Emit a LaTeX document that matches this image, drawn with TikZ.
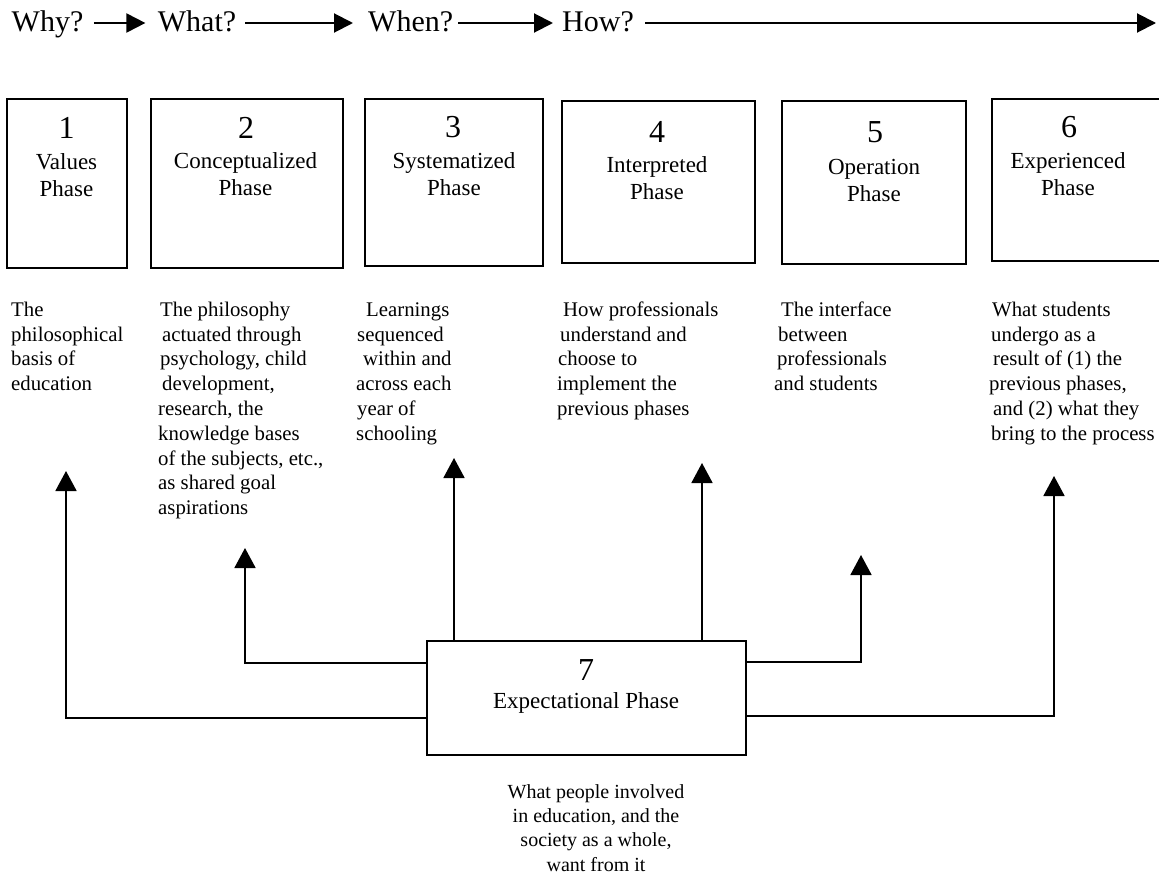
\documentclass[tikz,border=0pt]{standalone}
\usepackage{fontspec}
\setmainfont{Liberation Serif}
\usetikzlibrary{arrows.meta}
\begin{document}
\begin{tikzpicture}[x=1pt,y=-1pt,
  box/.style={draw, line width=1.8pt, inner sep=0pt},
  num/.style={font=\fontsize{32}{32}\selectfont, anchor=base, inner sep=0pt},
  phname/.style={font=\fontsize{23}{27}\selectfont, align=center, anchor=north, inner sep=0pt},
  desc/.style={font=\fontsize{20.8}{24.8}\selectfont, align=left, anchor=north west, inner sep=0pt},
  head/.style={font=\fontsize{30}{36}\selectfont, anchor=base west, inner sep=0pt, text height=20pt, text depth=4pt},
  harrow/.style={line width=2pt, -{Triangle[length=19pt,width=19pt]}},
  conn/.style={line width=1.8pt, -{Triangle[length=20pt,width=21pt]}}]
\path[use as bounding box] (0,0) rectangle (1159,878);
\fill[white] (0,0) rectangle (1159,878);
\clip (0,0) rectangle (1159,878);

% header
\node[head] (why) at (11.5,31) {Why?};
\node[head] (what) at (157.7,31) {What?};
\node[head] (when) at (368,31) {When?};
\node[head] (how) at (562,31) {How?};
\coordinate (hend) at (1156,23);
\draw[harrow, shorten <=10.4pt, shorten >=12.3pt] (why.east) -- (what.west);
\draw[harrow, shorten <=9pt, shorten >=15pt] (what.east) -- (when.west);
\draw[harrow, shorten <=5pt, shorten >=9pt] (when.east) -- (how.west);
\draw[harrow, shorten <=11.4pt] (how.east) -- (hend);

% phase boxes
\node[box, minimum width=120pt, minimum height=169pt] (b1) at (67,183.5) {};
\node[box, minimum width=192pt, minimum height=169pt] (b2) at (247,183.5) {};
\node[box, minimum width=178pt, minimum height=167pt] (b3) at (454,182.5) {};
\node[box, minimum width=193pt, minimum height=162pt] (b4) at (658.5,182) {};
\node[box, minimum width=184pt, minimum height=163pt] (b5) at (874,182.5) {};
\node[box, minimum width=200pt, minimum height=162pt] (b6) at (1092,180) {};

\node[num] (n1) at (66.5,138) {1};
\node[phname] (p1) at (66.5,150.1) {\strut Values\\Phase};
\node[num] (n2) at (246,138) {2};
\node[phname] (p2) at (245.5,149.1) {\strut Conceptualized\\Phase};
\node[num] (n3) at (453,137) {3};
\node[phname] (p3) at (454,149.1) {\strut Systematized\\Phase};
\node[num] (n4) at (657,142) {4};
\node[phname] (p4) at (657,153.1) {\strut Interpreted\\Phase};
\node[num] (n5) at (875,142) {5};
\node[phname] (p5) at (874,155.1) {\strut Operation\\Phase};
\node[num] (n6) at (1069,137) {6};
\node[phname] (p6) at (1068,149.1) {\strut Experienced\\Phase};

% descriptions
\node[desc] (d1) at (11,298.64) {\strut The\\philosophical\\basis of\\education};
\node[desc] (d2) at (158,298.64) {\strut\hspace*{2pt}The philosophy\\\hspace*{4pt}actuated through\\\hspace*{2pt}psychology, child\\\hspace*{4pt}development,\\research, the\\knowledge bases\\of the subjects, etc.,\\as shared goal\\aspirations};
\node[desc] (d3) at (356,298.64) {\strut\hspace*{10pt}Learnings\\\hspace*{1pt}sequenced\\\hspace*{7pt}within and\\across each\\\hspace*{1pt}year of\\schooling};
\node[desc] (d4) at (557,298.64) {\strut\hspace*{6pt}How professionals\\\hspace*{3pt}understand and\\\hspace*{1pt}choose to\\implement the\\previous phases};
\node[desc] (d5) at (774,298.64) {\strut\hspace*{7pt}The interface\\\hspace*{4pt}between\\\hspace*{3pt}professionals\\and students};
\node[desc] (d6) at (989,298.64) {\strut\hspace*{3pt}What students\\\hspace*{2pt}undergo as a\\\hspace*{4pt}result of (1) the\\previous phases,\\\hspace*{4pt}and (2) what they\\\hspace*{2pt}bring to the process};

% expectational phase
\node[box, minimum width=319pt, minimum height=114pt] (b7) at (586.5,698) {};
\node[num] (n7) at (586,680) {7};
\node[font=\fontsize{23}{27}\selectfont, anchor=base, inner sep=0pt] (p7) at (586,708) {Expectational Phase};
\node[font=\fontsize{20}{24.4}\selectfont, align=center, anchor=north, inner sep=0pt] (d7) at (596,780.9) {\strut What people involved\\in education, and the\\society as a whole,\\want from it};

% connectors
\coordinate (tip1) at (66,471);
\coordinate (tip2) at (245,548);
\coordinate (tip3) at (454,458);
\coordinate (tip4) at (702,463);
\coordinate (tip5) at (861,555);
\coordinate (tip6) at (1054,476);
\draw[conn] ([yshift=-20pt]b7.west) -| (tip1);
\draw[conn] ([yshift=35pt]b7.west) -| (tip2);
\draw[conn] (tip3 |- b7.north) -- (tip3);
\draw[conn] (tip4 |- b7.north) -- (tip4);
\draw[conn] ([yshift=36pt]b7.east) -| (tip5);
\draw[conn] ([yshift=-18pt]b7.east) -| (tip6);
\end{tikzpicture}
\end{document}
